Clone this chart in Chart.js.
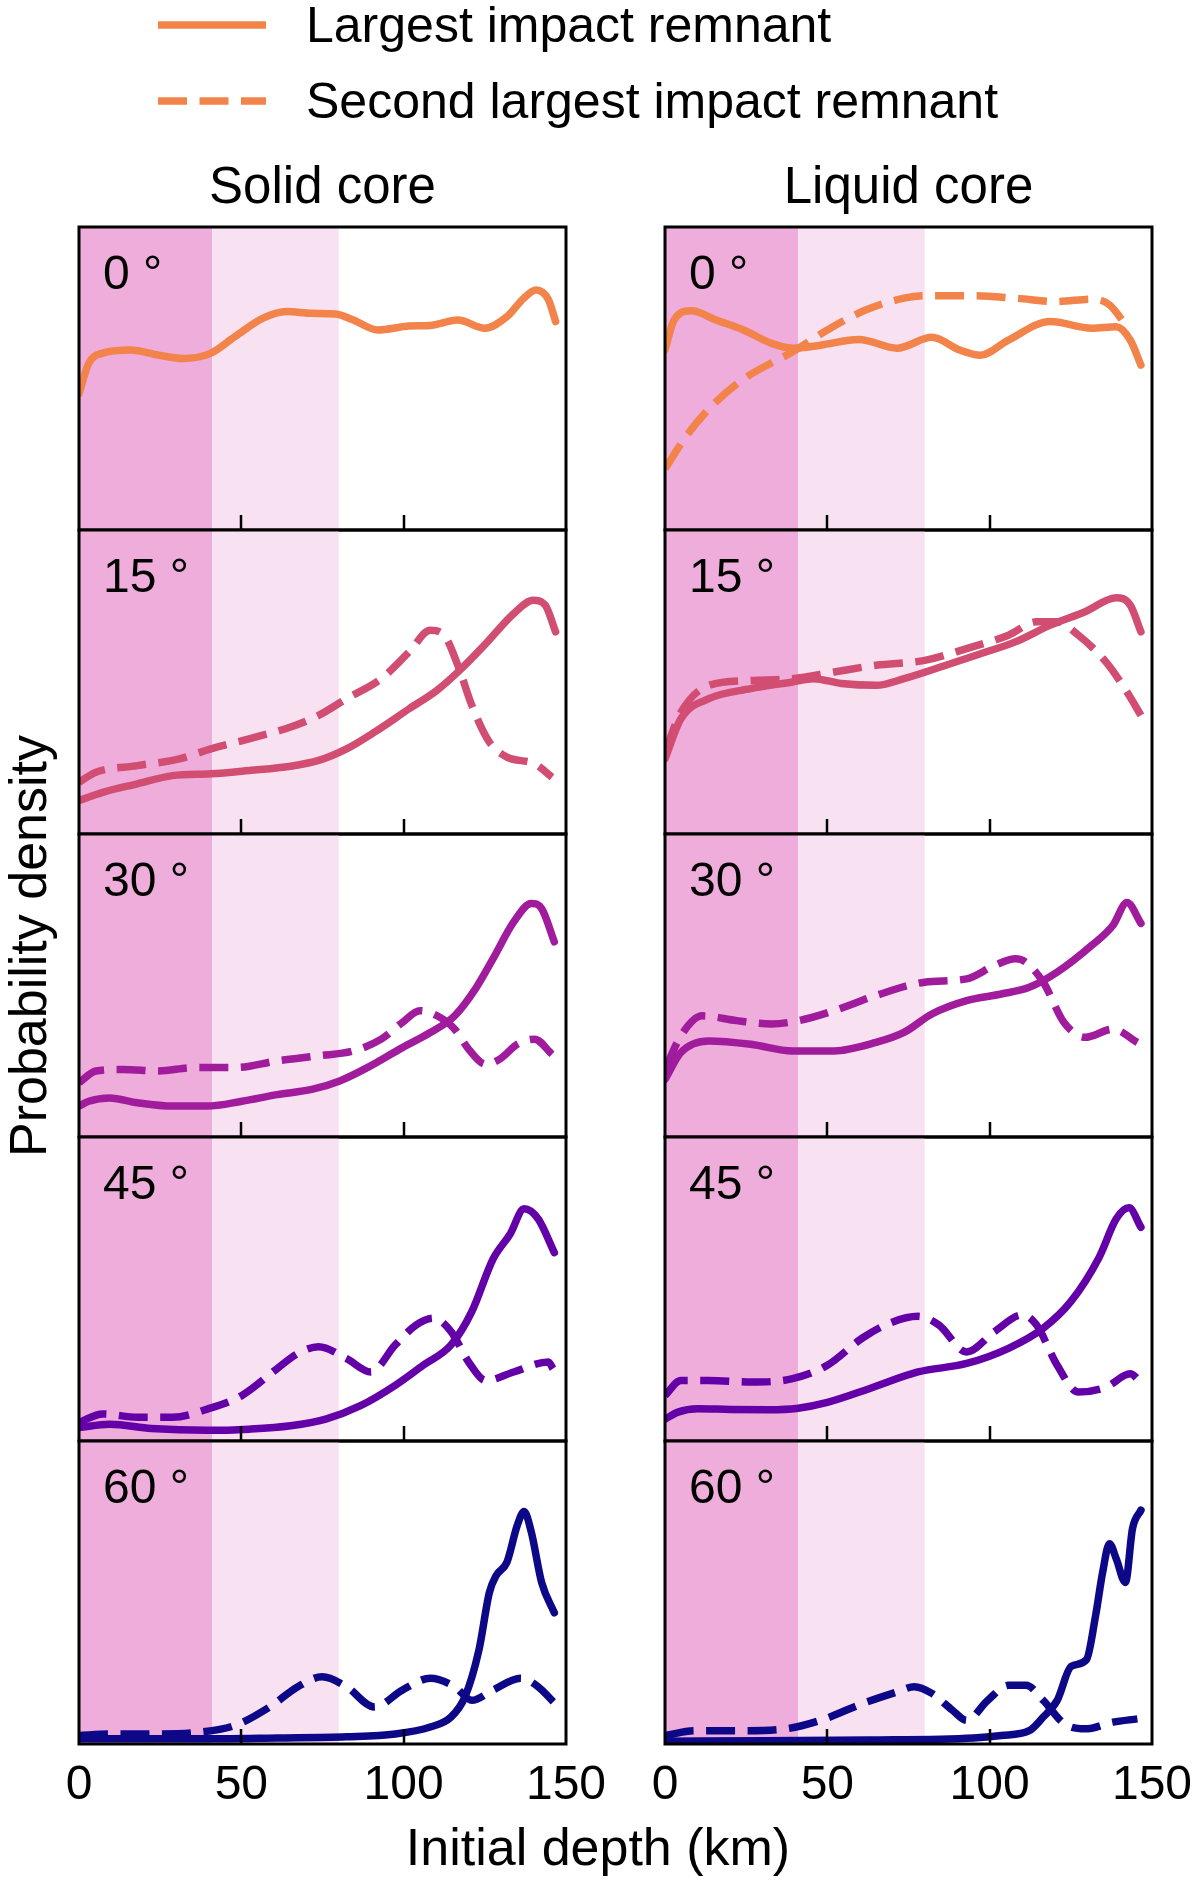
<!DOCTYPE html>
<html>
<head>
<meta charset="utf-8">
<script src="https://cdn.jsdelivr.net/npm/chart.js@4.4.1/dist/chart.umd.min.js"></script>
<style>
html, body { margin: 0; padding: 0; background: #fff; overflow: hidden; }
#fig { position: relative; width: 1200px; height: 1883px; overflow: hidden; font-family: "Liberation Sans", Arial, sans-serif; color: #000; }
.txt { position: absolute; line-height: 1; white-space: nowrap; }
.box { position: absolute; }
</style>
</head>
<body>
<div id="fig"></div>
<script>
// impact angles (one row each) and the depth axis
const angles = [0, 15, 30, 45, 60];
const columns = ['Solid core', 'Liquid core'];
const depthTicks = [0, 50, 100, 150];
const innerTicks = [50, 100];
const bandEdges = [0, 41, 80];

// probability density, [depth km, density] (panel height = 1)
// solid core, largest (L) and second largest (S) remnant
const solid0L = [[0,0.45],[3,0.55],[7,0.583],[16,0.594],[24.5,0.577],[32,0.566],[40.5,0.583],[48,0.638],[56.7,0.699],[64,0.721],[71.7,0.715],[79,0.713],[84.5,0.693],[92,0.66],[101.7,0.673],[108,0.675],[116.7,0.693],[125,0.666],[131.8,0.704],[137,0.765],[140.8,0.792],[144.6,0.76],[146.8,0.688]];
const solid0S = [];
const solid15L = [[0,0.11],[7.3,0.137],[18,0.165],[28.8,0.192],[40.6,0.198],[52.4,0.209],[65.2,0.223],[73.8,0.242],[82.4,0.28],[91,0.335],[101.7,0.412],[110.3,0.473],[117.8,0.544],[125.3,0.626],[133.9,0.725],[139.9,0.769],[143.6,0.753],[146.8,0.665]];
const solid15S = [[0,0.17],[5.2,0.203],[18,0.225],[30.9,0.247],[40.6,0.28],[52.4,0.313],[65.2,0.352],[73.8,0.39],[82.4,0.445],[93.1,0.511],[101.7,0.599],[108.2,0.67],[112.4,0.654],[116.7,0.555],[121,0.423],[126.4,0.302],[131.8,0.253],[140.3,0.231],[145.7,0.187]];
const solid30L = [[0,0.102],[3,0.118],[9.4,0.129],[18,0.113],[28.8,0.102],[39.5,0.102],[50.2,0.118],[61,0.14],[71.7,0.157],[80.3,0.185],[88.8,0.229],[99.6,0.295],[108.2,0.345],[115.7,0.4],[122.1,0.489],[127.5,0.588],[133.9,0.71],[139.3,0.771],[142.5,0.754],[146.4,0.644]];
const solid30S = [[0,0.179],[5.2,0.218],[13.7,0.223],[24.5,0.218],[35.2,0.229],[48,0.229],[61,0.251],[73.8,0.268],[84.5,0.284],[93.1,0.323],[99.6,0.378],[105,0.417],[110.3,0.4],[115.7,0.356],[120,0.29],[125.3,0.24],[129.6,0.257],[135,0.306],[140.3,0.323],[145.7,0.273]];
const solid45L = [[0,0.044],[9.4,0.055],[22.3,0.041],[39.5,0.035],[52.4,0.039],[65.2,0.05],[76,0.072],[86.7,0.116],[97.4,0.183],[106,0.249],[114.6,0.316],[121,0.426],[127.5,0.598],[132.8,0.681],[137.1,0.764],[141.4,0.731],[146.4,0.62]];
const solid45S = [[0,0.061],[7.3,0.089],[18,0.078],[28.8,0.078],[39.5,0.105],[50.2,0.15],[61,0.238],[67.4,0.288],[73.8,0.31],[82.4,0.271],[89.9,0.227],[97.4,0.316],[103.9,0.382],[109.2,0.404],[114.6,0.36],[120,0.26],[125.3,0.199],[133.9,0.227],[144.6,0.26],[146,0.238]];
const solid60L = [[0,0.017],[18,0.017],[39.5,0.017],[61,0.02],[82.4,0.024],[97.4,0.033],[108.2,0.056],[114.6,0.089],[118.9,0.156],[123.2,0.311],[126.4,0.5],[128.5,0.556],[131.8,0.6],[135,0.722],[137.1,0.767],[139.3,0.7],[142.5,0.533],[146.4,0.433]];
const solid60S = [[0,0.028],[9.4,0.033],[22.3,0.033],[37.3,0.039],[48,0.061],[58.7,0.122],[67.4,0.189],[74.9,0.222],[82.4,0.189],[91,0.122],[99.6,0.178],[108.2,0.217],[115.7,0.189],[121,0.144],[127.5,0.178],[136,0.217],[141.4,0.189],[146.1,0.139]];
// liquid core
const liquid0L = [[0,0.594],[2.8,0.693],[8.2,0.724],[15.7,0.693],[24.2,0.66],[32.8,0.616],[39.3,0.6],[47.9,0.61],[59.7,0.629],[71.5,0.6],[82.2,0.636],[90.8,0.594],[97.2,0.577],[105.8,0.627],[118.7,0.688],[131.5,0.666],[139,0.671],[143.3,0.627],[146.6,0.544]];
const liquid0S = [[0,0.202],[7.1,0.318],[15.7,0.423],[25.3,0.506],[39.3,0.588],[50,0.66],[61.8,0.726],[73.6,0.765],[80,0.773],[95,0.773],[108,0.765],[120.8,0.754],[131.5,0.762],[136.9,0.743],[142.3,0.671]];
const liquid15L = [[0,0.247],[4.9,0.379],[13.5,0.445],[26.4,0.478],[39.3,0.5],[45.7,0.511],[54.3,0.495],[65,0.489],[73.6,0.511],[86.5,0.555],[97.2,0.593],[107.9,0.632],[118.7,0.687],[129.4,0.731],[139,0.777],[143.3,0.753],[146.6,0.665]];
const liquid15S = [[0,0.27],[4.9,0.4],[13.5,0.489],[26.4,0.505],[39.3,0.511],[52.1,0.533],[65,0.555],[80,0.571],[92.9,0.61],[105.8,0.654],[114.4,0.698],[120.8,0.698],[127.3,0.654],[135.8,0.566],[142.3,0.467],[146.6,0.39]];
const liquid30L = [[0,0.19],[4.9,0.279],[13.5,0.317],[26.4,0.306],[39.3,0.284],[52.1,0.284],[65,0.312],[73.6,0.345],[82.2,0.406],[92.9,0.45],[103.6,0.472],[112.2,0.494],[120.8,0.544],[131.5,0.633],[138,0.699],[142.3,0.774],[146.6,0.705]];
const liquid30S = [[0,0.223],[4.9,0.334],[11.4,0.4],[22.1,0.384],[32.8,0.373],[41.2,0.384],[52.1,0.417],[65,0.467],[80,0.511],[92.9,0.522],[101.5,0.566],[108,0.588],[111.1,0.577],[116.5,0.511],[122.9,0.378],[129.4,0.329],[138,0.356],[145.5,0.312]];
const liquid45L = [[0,0.072],[4,0.095],[10,0.106],[20,0.104],[32,0.103],[41,0.108],[50,0.127],[62.9,0.172],[77.9,0.227],[92.9,0.255],[105.8,0.305],[116.5,0.371],[125.1,0.46],[133.7,0.604],[139,0.731],[142.9,0.767],[146.6,0.703]];
const liquid45S = [[0,0.15],[4.9,0.199],[13.5,0.199],[26.4,0.194],[39.3,0.205],[50,0.249],[60.7,0.338],[69.3,0.388],[77.9,0.41],[84.3,0.382],[92.9,0.293],[101.5,0.36],[110.1,0.415],[114.4,0.382],[120.8,0.249],[127.3,0.161],[135.8,0.177],[143.3,0.221],[146.1,0.199]];
const liquid60L = [[0,0.009],[30.7,0.011],[62.9,0.013],[95,0.02],[103.6,0.028],[112.2,0.044],[116.5,0.089],[120.8,0.144],[125.1,0.256],[129.8,0.278],[132.6,0.422],[134.8,0.567],[136.9,0.661],[139,0.611],[141.8,0.533],[144,0.711],[146.6,0.772]];
const liquid60S = [[0,0.028],[9.2,0.044],[22.1,0.044],[37.1,0.05],[47.9,0.078],[60.7,0.133],[71.5,0.172],[76.8,0.189],[82.2,0.167],[88.6,0.111],[92.9,0.078],[99.4,0.144],[105.8,0.194],[111.2,0.194],[116.5,0.144],[123,0.067],[129.4,0.05],[138,0.072],[145.5,0.083]];

const largest = [[solid0L, solid15L, solid30L, solid45L, solid60L], [liquid0L, liquid15L, liquid30L, liquid45L, liquid60L]];
const second = [[solid0S, solid15S, solid30S, solid45S, solid60S], [liquid0S, liquid15S, liquid30S, liquid45S, liquid60S]];

// looks
const lineColors = ['#F2844B', '#D14E72', '#A01C9C', '#6300A7', '#0D0887'];
const BAND_DARK = '#EEADDA';
const BAND_LIGHT = '#F8E2F2';
const FONT = '"Liberation Sans", Arial, sans-serif';
const LW = 7.5;
const DASH = [29, 12.5];

const PANEL_X = [79, 665];
const PANEL_W = 487;
const ROW_TOP = 227;
const ROW_H = 303.4;
const PAD = 62;
const AXIS_H = 80;

const fig = document.getElementById('fig');

function addText(str, left, top, size, extra) {
  var d = document.createElement('div');
  d.className = 'txt';
  d.textContent = str;
  d.style.left = left + 'px';
  d.style.top = top + 'px';
  d.style.fontSize = size + 'px';
  if (extra) Object.assign(d.style, extra);
  fig.appendChild(d);
  return d;
}

// bands, border and inward ticks of every panel
const panelDecor = {
  id: 'panelDecor',
  beforeDatasetsDraw(chart) {
    const a = chart.chartArea, x = chart.scales.x, ctx = chart.ctx;
    const p0 = x.getPixelForValue(bandEdges[0]);
    const p1 = x.getPixelForValue(bandEdges[1]);
    const p2 = x.getPixelForValue(bandEdges[2]);
    ctx.save();
    ctx.fillStyle = BAND_DARK;
    ctx.fillRect(p0, a.top, p1 - p0, a.bottom - a.top);
    ctx.fillStyle = BAND_LIGHT;
    ctx.fillRect(p1, a.top, p2 - p1, a.bottom - a.top);
    ctx.restore();
  },
  afterDatasetsDraw(chart) {
    const a = chart.chartArea, x = chart.scales.x, ctx = chart.ctx;
    ctx.save();
    ctx.strokeStyle = '#000';
    ctx.lineWidth = 2.5;
    innerTicks.forEach(function (v) {
      var px = Math.round(x.getPixelForValue(v));
      ctx.beginPath();
      ctx.moveTo(px, a.bottom);
      ctx.lineTo(px, a.bottom - 15);
      ctx.stroke();
    });
    ctx.lineWidth = 3;
    ctx.strokeRect(a.left, a.top, a.right - a.left, a.bottom - a.top);
    ctx.restore();
  }
};

function makePanel(col, row) {
  const isBottom = row === angles.length - 1;
  const top = Math.round(ROW_TOP + row * ROW_H);
  const h = Math.round(ROW_TOP + (row + 1) * ROW_H) - top;
  const box = document.createElement('div');
  box.className = 'box';
  box.style.left = (PANEL_X[col] - PAD) + 'px';
  box.style.top = (top - 2) + 'px';
  box.style.width = (PANEL_W + 2 * PAD) + 'px';
  box.style.height = (h + 2 + (isBottom ? AXIS_H : 2)) + 'px';
  const cv = document.createElement('canvas');
  box.appendChild(cv);
  fig.appendChild(box);

  const color = lineColors[row];
  const datasets = [{
    data: largest[col][row].map(function (p) { return {x: p[0], y: p[1]}; }),
    borderColor: color,
    borderWidth: LW,
    pointRadius: 0,
    cubicInterpolationMode: 'monotone',
    borderCapStyle: 'round',
    borderJoinStyle: 'round'
  }];
  if (second[col][row].length) {
    datasets.push({
      data: second[col][row].map(function (p) { return {x: p[0], y: p[1]}; }),
      borderColor: color,
      borderWidth: LW,
      borderDash: DASH,
      pointRadius: 0,
      cubicInterpolationMode: 'monotone',
      borderCapStyle: 'butt'
    });
  }

  const xScale = {
    type: 'linear',
    min: depthTicks[0],
    max: depthTicks[depthTicks.length - 1],
    display: isBottom,
    afterBuildTicks: function (s) { s.ticks = depthTicks.map(function (v) { return {value: v}; }); },
    grid: {display: false, drawTicks: false},
    border: {display: false},
    ticks: {color: '#000', padding: 13, maxRotation: 0, autoSkip: false, font: {family: FONT, size: 48}}
  };
  if (isBottom) xScale.afterFit = function (s) { s.height = AXIS_H; };

  new Chart(cv, {
    type: 'line',
    data: {datasets: datasets},
    options: {
      responsive: true,
      maintainAspectRatio: false,
      animation: false,
      events: [],
      layout: {padding: {left: PAD, right: PAD, top: 2, bottom: isBottom ? 0 : 2}},
      plugins: {legend: {display: false}, tooltip: {enabled: false}},
      scales: {
        x: xScale,
        y: {type: 'linear', min: 0, max: 1, display: false}
      }
    },
    plugins: [panelDecor]
  });

  addText(angles[row] + ' °', PANEL_X[col] + 24, top + 22, 48);
}

columns.forEach(function (name, c) {
  addText(name, PANEL_X[c], 160, 51, {width: PANEL_W + 'px', textAlign: 'center'});
  angles.forEach(function (a, r) { makePanel(c, r); });
});

// legend
const legendSvg = document.createElementNS('http://www.w3.org/2000/svg', 'svg');
legendSvg.setAttribute('width', '130');
legendSvg.setAttribute('height', '130');
legendSvg.style.position = 'absolute';
legendSvg.style.left = '150px';
legendSvg.style.top = '0px';
legendSvg.innerHTML =
  '<line x1="8" y1="25" x2="116" y2="25" stroke="' + lineColors[0] + '" stroke-width="' + LW + '"/>' +
  '<line x1="8" y1="101" x2="116" y2="101" stroke="' + lineColors[0] + '" stroke-width="' + LW + '" stroke-dasharray="' + DASH.join(' ') + '"/>';
fig.appendChild(legendSvg);
addText('Largest impact remnant', 306, 0, 50);
addText('Second largest impact remnant', 306, 76, 50);

// axis titles
addText('Initial depth (km)', 0, 1821, 52, {width: '1200px', textAlign: 'center', left: '-2px'});
addText('Probability density', 28, 946, 52, {transform: 'translate(-50%, -50%) rotate(-90deg)'});
</script>
</body>
</html>
